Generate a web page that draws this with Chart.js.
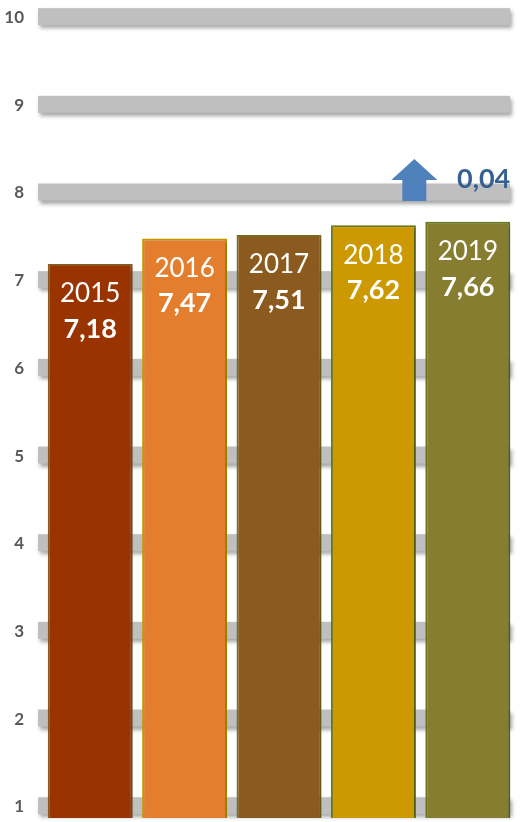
<!DOCTYPE html>
<html>
<head>
<meta charset="utf-8">
<script src="https://cdn.jsdelivr.net/npm/chart.js@4/dist/chart.umd.min.js"></script>
<style>
    html, body { margin: 0; padding: 0; background: #fff; }
    #wrap { width: 521px; height: 822px; position: relative; }
</style>
</head>
<body>
<div id="wrap"><canvas id="chart"></canvas></div>
<script>
// Yearly scores
const years = ['2015', '2016', '2017', '2018', '2019'];
const scores = [7.18, 7.47, 7.51, 7.62, 7.66];
const yTicks = [1, 2, 3, 4, 5, 6, 7, 8, 9, 10];

const barColors = ['#993300', '#E37E2F', '#8B5A1E', '#CC9900', '#877D30'];
const barBorders = ['#8A5A22', '#C99A00', '#7F6A20', '#6E7A12', '#66781A'];

const FONT = 'Lato, "Open Sans", sans-serif';

const fmt = v => v.toFixed(2).replace('.', ',');

// Thick grey bands with a soft shadow in place of normal grid lines,
// plus the bold value labels to the left of each band
const bandGrid = {
    id: 'bandGrid',
    beforeDatasetsDraw(chart) {
        const ctx = chart.ctx;
        const area = chart.chartArea;
        const y = chart.scales.y;
        ctx.save();
        ctx.fillStyle = '#BFBFBF';
        ctx.shadowColor = 'rgba(0,0,0,0.35)';
        ctx.shadowBlur = 4;
        ctx.shadowOffsetX = 2;
        ctx.shadowOffsetY = 3;
        y.ticks.forEach(t => {
            const py = y.getPixelForValue(t.value);
            ctx.fillRect(area.left - 5, py - 8.5, area.right - area.left, 17);
        });
        ctx.restore();

        ctx.save();
        ctx.fillStyle = '#595959';
        ctx.font = 'bold 17px ' + FONT;
        ctx.textAlign = 'right';
        ctx.textBaseline = 'middle';
        y.ticks.forEach(t => {
            ctx.fillText(String(t.value), area.left - 19, y.getPixelForValue(t.value) + 1);
        });
        ctx.restore();
    }
};

// Light shadow behind the bars
const barShadow = {
    id: 'barShadow',
    beforeDatasetDraw(chart) {
        const ctx = chart.ctx;
        ctx.shadowColor = 'rgba(0,0,0,0.25)';
        ctx.shadowBlur = 4;
        ctx.shadowOffsetX = 3;
        ctx.shadowOffsetY = 2;
    },
    afterDatasetDraw(chart) {
        const ctx = chart.ctx;
        ctx.shadowColor = 'transparent';
        ctx.shadowBlur = 0;
        ctx.shadowOffsetX = 0;
        ctx.shadowOffsetY = 0;
    }
};

// Year and value written inside the top of each bar
const barLabels = {
    id: 'barLabels',
    afterDatasetsDraw(chart) {
        const ctx = chart.ctx;
        const meta = chart.getDatasetMeta(0);
        ctx.save();
        ctx.fillStyle = '#FFFFFF';
        ctx.textAlign = 'center';
        ctx.textBaseline = 'middle';
        meta.data.forEach((bar, i) => {
            ctx.font = '26px ' + FONT;
            ctx.fillText(years[i], bar.x, bar.y + 30);
            ctx.font = 'bold 27px ' + FONT;
            ctx.fillText(fmt(scores[i]), bar.x, bar.y + 65);
        });
        ctx.restore();
    }
};

// Arrow and change between the last two years
const changeMarker = {
    id: 'changeMarker',
    afterDatasetsDraw(chart) {
        const ctx = chart.ctx;
        const meta = chart.getDatasetMeta(0);
        const last = meta.data[meta.data.length - 1];
        const n = scores.length;
        const diff = scores[n - 1] - scores[n - 2];
        const y8 = chart.scales.y.getPixelForValue(8);
        const left = last.x - last.width / 2;
        const right = last.x + last.width / 2;
        const cx = left - 11;

        ctx.save();
        ctx.fillStyle = '#4F81BD';
        ctx.beginPath();
        ctx.moveTo(cx, y8 - 33);
        ctx.lineTo(cx + 23, y8 - 12);
        ctx.lineTo(cx + 12, y8 - 12);
        ctx.lineTo(cx + 12, y8 + 9);
        ctx.lineTo(cx - 12, y8 + 9);
        ctx.lineTo(cx - 12, y8 - 12);
        ctx.lineTo(cx - 23, y8 - 12);
        ctx.closePath();
        ctx.fill();

        ctx.fillStyle = '#376092';
        ctx.font = 'bold 27px ' + FONT;
        ctx.textAlign = 'right';
        ctx.textBaseline = 'middle';
        ctx.fillText(fmt(diff), right, y8 - 13);
        ctx.restore();
    }
};

new Chart(document.getElementById('chart'), {
    type: 'bar',
    data: {
        labels: years,
        datasets: [{
            data: scores,
            backgroundColor: barColors,
            borderColor: barBorders,
            borderWidth: 2,
            borderSkipped: false,
            categoryPercentage: 1,
            barPercentage: 0.9
        }]
    },
    options: {
        responsive: true,
        maintainAspectRatio: false,
        animation: false,
        layout: { padding: { top: 0, right: 6, bottom: 4, left: 0 } },
        plugins: {
            legend: { display: false },
            tooltip: { enabled: false }
        },
        scales: {
            x: { display: false },
            y: {
                min: 0.86,
                max: 10.19,
                border: { display: false },
                grid: { display: false, drawTicks: false },
                ticks: { display: false },
                afterBuildTicks: scale => {
                    scale.ticks = yTicks.map(v => ({ value: v }));
                },
                afterFit: scale => {
                    scale.width = 43;
                    scale.paddingTop = 0;
                    scale.paddingBottom = 0;
                }
            }
        }
    },
    plugins: [bandGrid, barShadow, barLabels, changeMarker]
});
</script>
</body>
</html>
